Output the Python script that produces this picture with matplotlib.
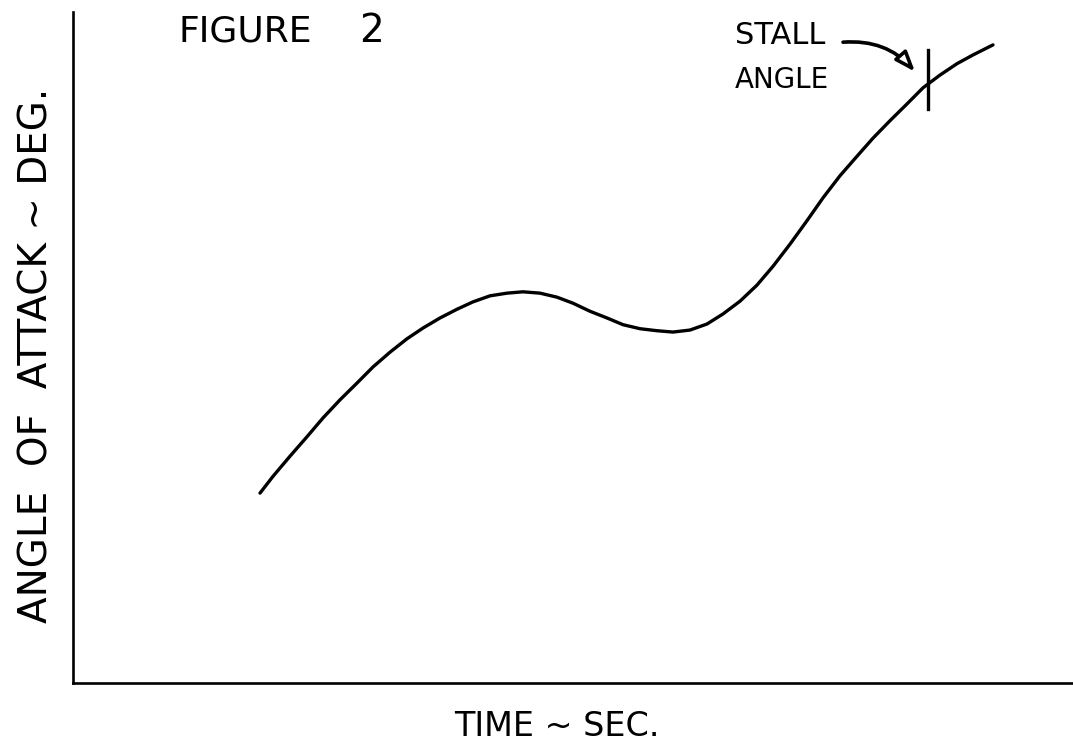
import matplotlib
matplotlib.use("Agg")
import matplotlib.pyplot as plt

# Pixel-read positions of the hand-drawn curve converted to arbitrary units
# time: 0..100 across the axis, angle: 0..100 up the axis
curve_px_x = [260, 273, 290, 307, 323, 340, 357, 373, 390, 407, 423, 440, 457,
              473, 490, 507, 523, 540, 557, 573, 590, 607, 623, 640, 657, 673,
              690, 707, 723, 740, 757, 773, 790, 807, 823, 840, 857, 873, 890,
              907, 923, 940, 957, 973, 993]
curve_px_y = [493, 476, 456, 437, 418, 400, 383, 367, 352, 339, 328, 318, 309,
              302, 296, 293, 292, 293, 297, 303, 311, 318, 325, 329, 331, 332,
              330, 324, 314, 301, 285, 266, 244, 221, 198, 176, 156, 138, 121,
              104, 88, 75, 64, 55, 45]
time = [round((x - 73) / 10.0, 1) for x in curve_px_x]
angle = [round((683 - y) / 6.71, 1) for y in curve_px_y]

stall_time = 85.5
stall_marker = [85.5, 94.3]
arrow_start = (77.0, 95.5)
arrow_tip = (84.2, 91.1)

xlabel_text = "TIME ~ SEC."
ylabel_text = "ANGLE  OF  ATTACK ~ DEG."

plt.rcParams['font.family'] = ['DejaVu Sans']
fig = plt.figure(figsize=(10.73, 7.47), dpi=100)
fig.patch.set_facecolor('white')
ax = fig.add_axes([73/1073, 64/747, 1000/1073, 671/747])
ax.set_xlim(0, 100)
ax.set_ylim(0, 100)
for s in ['top', 'right']:
    ax.spines[s].set_visible(False)
for s in ['left', 'bottom']:
    ax.spines[s].set_linewidth(1.9)
    ax.spines[s].set_color('black')
ax.set_xticks([])
ax.set_yticks([])

ax.plot(time, angle, color='black', lw=2.4, solid_capstyle='round',
        solid_joinstyle='round')
ax.plot([stall_time, stall_time], stall_marker, color='black', lw=2.4)

ax.annotate('', xy=arrow_tip, xytext=arrow_start,
            arrowprops=dict(arrowstyle='-|>,head_length=1.2,head_width=0.45',
                            fc='white', ec='black', lw=2.6,
                            connectionstyle='arc3,rad=-0.25',
                            shrinkA=0, shrinkB=0))

fig.text(178/1073, 1 - 31/747, "FIGURE", fontsize=26, ha='left', va='center')
fig.text(371/1073, 1 - 31/747, "2", fontsize=28, ha='center', va='center')
fig.text(735/1073, 1 - 36/747, "STALL", fontsize=22, ha='left', va='center')
fig.text(735/1073, 1 - 80/747, "ANGLE", fontsize=20, ha='left', va='center')
fig.text(557/1073, 1 - 726/747, xlabel_text, fontsize=24, ha='center', va='center')
fig.text(37/1073, 1 - 355/747, ylabel_text, fontsize=28, ha='center', va='center',
         rotation=90)

fig.savefig('out.png', dpi=100, facecolor='white')
